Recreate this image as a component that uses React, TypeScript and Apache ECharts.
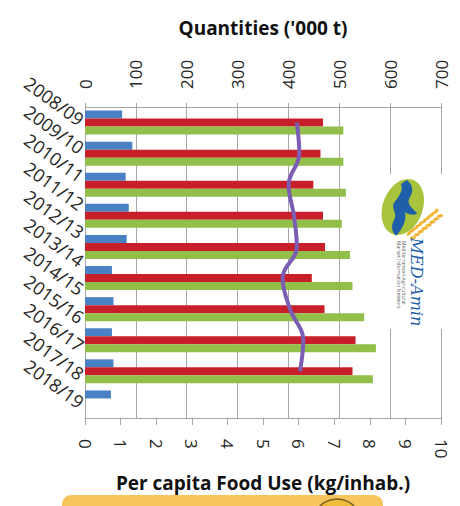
import React, { useEffect, useRef } from "react";
import * as echarts from "echarts";

const seasons = [
  "2008/09", "2009/10", "2010/11", "2011/12", "2012/13", "2013/14",
  "2014/15", "2015/16", "2016/17", "2017/18", "2018/19",
];
const barGroups = [
  "2008/09", "2009/10", "2010/11", "2011/12", "2012/13",
  "2013/14", "2014/15", "2015/16", "2016/17", "2017/18",
];
const blueValues = [73, 93, 80, 86, 82, 53, 56, 53, 56, 51];
const redValues = [468, 463, 449, 468, 472, 446, 471, 532, 526, null];
const greenValues = [508, 508, 513, 505, 521, 526, 549, 572, 566, null];
const perCapitaValues = [5.95, 6.02, 5.72, 5.87, 5.95, 5.55, 5.76, 6.13, 6.04, null];

const quantityMax = 700;
const quantityStep = 100;
const perCapitaMax = 10;
const perCapitaStep = 1;

const riverPath =
  "M24 0 C31 5 31 12 27 18 C23 24 30 29 35 34 C31 37 26 35 22 33 C24 41 20 49 13 57 C8 53 7 46 11 40 C14 34 8 30 10 24 C14 18 21 12 18 4 Z";

echarts.graphic.registerShape("river", echarts.graphic.extendPath(riverPath, {}) as any);

const GRID = "#a6a6a6";
const TXT = "#262626";

function buildLogo(): any[] {
  const els: any[] = [];
  els.push({ type: "rect", shape: { x: 382, y: 174, width: 62, height: 155 }, style: { fill: "#ffffff" }, z: 10 });
  els.push({
    type: "ellipse",
    shape: { cx: 403, cy: 207, rx: 20, ry: 29 },
    rotation: -0.35,
    originX: 403,
    originY: 207,
    style: { fill: "#a8c43c" },
    z: 11,
  });
  els.push({
    type: "river",
    x: 384,
    y: 180,
    scaleX: 0.95,
    scaleY: 0.98,
    style: { fill: "#1f5ea8" },
    z: 12,
  });
  for (let i = 0; i < 8; i++) {
    const t = i / 7;
    const cx = 411 + t * 27;
    const cy = 236 - t * 22;
    els.push({
      type: "ellipse",
      shape: { cx: cx - 2, cy: cy - 3, rx: 3.2, ry: 1.6 },
      rotation: 0.9,
      originX: cx - 2,
      originY: cy - 3,
      style: { fill: "#f2b535" },
      z: 12,
    });
    els.push({
      type: "ellipse",
      shape: { cx: cx + 2, cy: cy + 2, rx: 3.2, ry: 1.6 },
      rotation: 0.2,
      originX: cx + 2,
      originY: cy + 2,
      style: { fill: "#f2b535" },
      z: 12,
    });
  }
  els.push({
    type: "text",
    x: 416,
    y: 282,
    rotation: -Math.PI / 2,
    style: {
      text: "MED-Amin",
      fill: "#1f5ea8",
      fontSize: 16,
      fontStyle: "italic",
      fontFamily: "DejaVu Serif",
      align: "center",
      verticalAlign: "middle",
    },
    z: 12,
  });
  els.push({
    type: "text",
    x: 401,
    y: 241,
    rotation: -Math.PI / 2,
    style: {
      text: "Mediterranean Agricultural\nMarket Information Network",
      fill: "#707070",
      fontSize: 5,
      lineHeight: 5,
      fontFamily: "Noto Sans",
      align: "left",
      verticalAlign: "middle",
    },
    z: 12,
  });
  return els;
}

function buildFooter(): any[] {
  return [
    {
      type: "rect",
      shape: { x: 62, y: 495, width: 321, height: 30, r: 9 },
      style: { fill: "#f8c45c" },
      z: 10,
    },
    {
      type: "circle",
      shape: { cx: 337, cy: 523, r: 24 },
      style: { fill: "#f3bd3c", stroke: "#7a6026", lineWidth: 1.5 },
      z: 11,
    },
  ];
}

export default function App() {
  const ref = useRef<HTMLDivElement>(null);
  useEffect(() => {
    if (!ref.current) return;
    const chart = echarts.init(ref.current, undefined, { renderer: "svg" });
    chart.setOption({
      animation: false,
      backgroundColor: "#ffffff",
      grid: { left: 85, right: 19, top: 107, bottom: 88, containLabel: false },
      xAxis: [
        {
          type: "value",
          position: "top",
          min: 0,
          max: quantityMax,
          interval: quantityStep,
          name: "Quantities ('000 t)",
          nameLocation: "middle",
          nameGap: 70,
          nameTextStyle: { fontFamily: "Open Sans", fontWeight: "bold", fontSize: 19, color: "#111" },
          axisLine: { show: true, lineStyle: { color: GRID } },
          axisTick: { show: true, length: 4, lineStyle: { color: GRID } },
          splitLine: { show: true, lineStyle: { color: GRID, width: 1 } },
          axisLabel: { rotate: -90, margin: 18, fontFamily: "Open Sans", fontSize: 17, color: TXT },
        },
        {
          type: "value",
          position: "bottom",
          min: 0,
          max: perCapitaMax,
          interval: perCapitaStep,
          name: "Per capita Food Use (kg/inhab.)",
          nameLocation: "middle",
          nameGap: 55,
          nameTextStyle: { fontFamily: "Open Sans", fontWeight: "bold", fontSize: 19, color: "#111" },
          axisLine: { show: true, lineStyle: { color: GRID } },
          axisTick: { show: true, length: 7, lineStyle: { color: GRID } },
          splitLine: { show: false },
          axisLabel: { rotate: -90, margin: 21, fontFamily: "Open Sans", fontSize: 17, color: TXT },
        },
      ],
      yAxis: [
        {
          type: "category",
          data: seasons,
          inverse: true,
          position: "left",
          axisLine: { show: true, lineStyle: { color: GRID } },
          axisTick: { show: false },
          splitLine: { show: false },
          axisLabel: { rotate: -36, margin: 3, fontFamily: "Open Sans", fontSize: 18, color: TXT, interval: 0 },
        },
        {
          type: "category",
          data: barGroups,
          inverse: true,
          position: "left",
          show: false,
        },
      ],
      series: [
        {
          name: "Series 1",
          type: "bar",
          xAxisIndex: 0,
          yAxisIndex: 1,
          data: blueValues,
          barWidth: 8,
          barGap: "0%",
          itemStyle: { color: "#4a80c4" },
        },
        {
          name: "Series 2",
          type: "bar",
          xAxisIndex: 0,
          yAxisIndex: 1,
          data: redValues,
          barWidth: 8,
          barGap: "0%",
          itemStyle: { color: "#c8202b" },
        },
        {
          name: "Series 3",
          type: "bar",
          xAxisIndex: 0,
          yAxisIndex: 1,
          data: greenValues,
          barWidth: 8,
          barGap: "0%",
          itemStyle: { color: "#92bf4a" },
        },
        {
          name: "Per capita food use",
          type: "line",
          xAxisIndex: 1,
          yAxisIndex: 1,
          data: perCapitaValues,
          smooth: 0.4,
          showSymbol: false,
          symbol: "none",
          lineStyle: { color: "#7b5db4", width: 4 },
          z: 5,
        },
      ],
      graphic: [...buildLogo(), ...buildFooter()],
    });
    return () => chart.dispose();
  }, []);
  return (
    <div
      ref={ref}
      style={{ position: "absolute", left: 0, top: 0, width: 460, height: 506 }}
    />
  );
}
